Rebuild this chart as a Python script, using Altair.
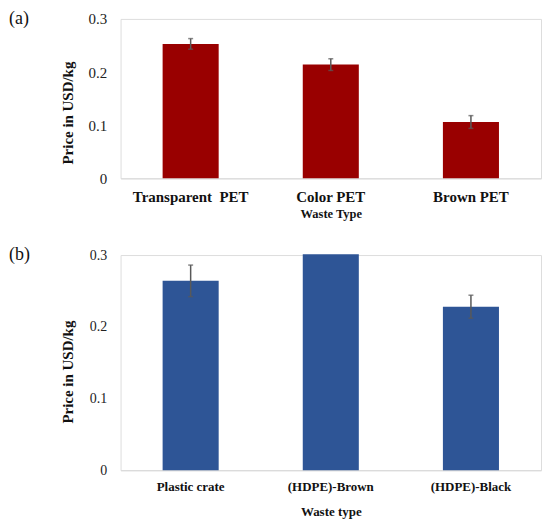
import altair as alt
import pandas as pd

FONT = "Liberation Serif"

cats_a = ["Transparent\u00a0 PET", "Color PET", "Brown PET"]
vals_a = [0.253, 0.214, 0.106]
errs_a = [0.010, 0.011, 0.012]

cats_b = ["Plastic crate", "(HDPE)-Brown", "(HDPE)-Black"]
vals_b = [0.264, 0.301, 0.228]
errs_b = [0.022, 0.0, 0.016]

y_ticks = [0, 0.1, 0.2, 0.3]
YTITLE = "Price in USD/kg"


def panel(cats, vals, errs, color, height, letter, xtitle,
          xlab_size, xlab_pad, xtitle_size, xtitle_pad, ylab_size,
          ytitle_x, ytitle_y):
    df = pd.DataFrame({"cat": cats, "val": vals, "err": errs})
    base = alt.Chart(df)
    xenc = alt.X(
        "cat:N", sort=cats,
        scale=alt.Scale(paddingInner=0.6, paddingOuter=0.3),
        axis=alt.Axis(
            title=xtitle, labelAngle=0, ticks=False, grid=False,
            domainColor="#d9d9d9", domainWidth=1,
            labelFont=FONT, labelFontSize=xlab_size, labelFontWeight="bold",
            labelColor="#111111", labelPadding=xlab_pad,
            titleFont=FONT, titleFontSize=xtitle_size, titleFontWeight="bold",
            titleColor="#111111", titlePadding=xtitle_pad,
        ),
    )
    yenc = alt.Y(
        "val:Q", title=YTITLE,
        scale=alt.Scale(domain=[0, 0.3], nice=False),
        axis=alt.Axis(
            values=y_ticks, domain=False, ticks=False,
            grid=False,
            labelExpr="datum.value == 0 ? '0' : format(datum.value, '.1f')",
            labelFont=FONT, labelFontSize=ylab_size, labelColor="#222222",
            labelPadding=14,
            titleFont=FONT, titleFontSize=15, titleFontWeight="bold",
            titleColor="#111111", titleX=ytitle_x, titleY=ytitle_y,
            titleBaseline="middle",
        ),
    )
    bars = base.mark_bar(color=color).encode(x=xenc, y=yenc)
    err = (
        base.transform_filter("datum.err > 0")
        .transform_calculate(lo="datum.val - datum.err", hi="datum.val + datum.err")
        .mark_errorbar(ticks=True, size=5, thickness=1.5, color="#595959")
        .encode(x=alt.X("cat:N", sort=cats), y=alt.Y("lo:Q", title=YTITLE), y2="hi:Q")
    )
    lab = (
        alt.Chart(pd.DataFrame({"t": [letter]}))
        .mark_text(font=FONT, fontSize=18, align="left", baseline="middle",
                   color="#111111")
        .encode(text="t:N", x=alt.value(-112), y=alt.value(0))
    )
    return alt.layer(bars, err, lab).properties(width=422, height=height)


pa = panel(cats_a, vals_a, errs_a, "#990000", 160, "(a)", "Waste Type",
           15, 11, 12.5, 3, 15, -53, 94)
pb = panel(cats_b, vals_b, errs_b, "#2E5596", 216, "(b)", "Waste type",
           13, 10, 13, 12, 14, -53, 117)

chart = (
    alt.vconcat(pa, pb, spacing=25)
    .properties(padding={"left": 0, "top": 0, "right": 0, "bottom": 0})
    .configure_view(stroke=None)
    .configure(background="white", font=FONT)
)

chart.save("out.html", embed_options={"renderer": "svg", "actions": False})
